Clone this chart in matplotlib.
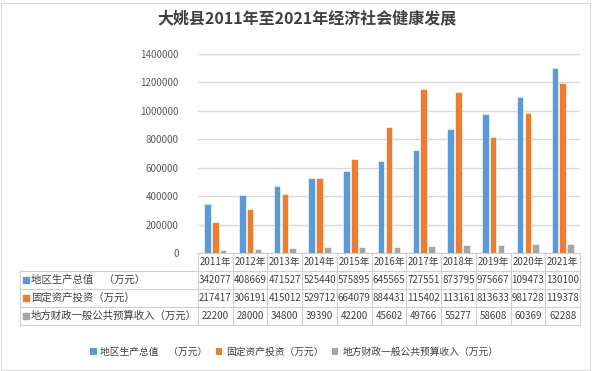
import matplotlib
matplotlib.use("Agg")
import matplotlib.pyplot as plt
import matplotlib.transforms as mtransforms
from matplotlib.patches import Patch, Rectangle
import numpy as np

plt.rcParams['font.family'] = ['Noto Sans CJK SC', 'DejaVu Sans']

title = "大姚县2011年至2021年经济社会健康发展"
years = ["2011年", "2012年", "2013年", "2014年", "2015年", "2016年",
         "2017年", "2018年", "2019年", "2020年", "2021年"]
series_names = ["地区生产总值　（万元）", "固定资产投资（万元）", "地方财政一般公共预算收入（万元）"]
gdp = [342077, 408669, 471527, 525440, 575895, 645565, 727551, 873795, 975667, 1094730, 1301000]
invest = [217417, 306191, 415012, 529712, 664079, 884431, 1154020, 1131610, 813633, 981728, 1193780]
revenue = [22200, 28000, 34800, 39390, 42200, 45602, 49766, 55277, 58608, 60369, 62288]
yticks = [0, 200000, 400000, 600000, 800000, 1000000, 1200000, 1400000]

colors = ["#5B9BD5", "#ED7D31", "#A5A5A5"]
text_c = "#404040"
grid_c = "#D9D9D9"
tab_c = "#D0D0D0"

W, H = 594, 371
fig = plt.figure(figsize=(W / 100, H / 100), dpi=100)
ax_l, ax_r, ax_t, ax_b = 198, 580, 54, 253
ax = fig.add_axes([ax_l / W, 1 - ax_b / H, (ax_r - ax_l) / W, (ax_b - ax_t) / H])

x = np.arange(len(years))
data = [gdp, invest, revenue]
offsets = [-0.225, 0.0, 0.225]
for vals, off, c, name in zip(data, offsets, colors, series_names):
    ax.bar(x + off, vals, width=0.19, color=c, edgecolor="white", linewidth=0.4, label=name, zorder=3)

ax.set_xlim(-0.5, len(years) - 0.5)
ax.set_ylim(0, 1400000)
ax.set_yticks(yticks)
ax.set_yticklabels([str(v) for v in yticks], fontsize=7, color="#595959")
ax.tick_params(axis='y', length=0, pad=14)
ax.tick_params(axis='x', length=0, labelbottom=False)
ax.yaxis.grid(True, color=grid_c, linewidth=1.0, zorder=0)
for s in ["top", "right", "left"]:
    ax.spines[s].set_visible(False)
ax.spines["bottom"].set_color(tab_c)
ax.spines["bottom"].set_linewidth(0.8)

# Data table
axh = ax_b - ax_t
row_h = 18 / axh
blend = mtransforms.blended_transform_factory(ax.transData, ax.transAxes)
left_ax = (20 - ax_l) / (ax_r - ax_l)
nfs = 7
lfs = 7.5

for k in range(1, 5):
    yy = -k * row_h
    ax.plot([left_ax, 1.0], [yy, yy], transform=ax.transAxes, color=tab_c, lw=0.8, clip_on=False)
for k in range(len(years) + 1):
    xx = k - 0.5
    ax.plot([xx, xx], [0, -4 * row_h], transform=blend, color=tab_c, lw=0.8, clip_on=False)
ax.plot([left_ax, left_ax], [-row_h, -4 * row_h], transform=ax.transAxes, color=tab_c, lw=0.8, clip_on=False)

for i, yl in enumerate(years):
    ax.text(i, -0.5 * row_h, yl, transform=blend, ha="center", va="center", fontsize=nfs, color=text_c)
for r, (vals, c, name) in enumerate(zip(data, colors, series_names)):
    yy = -(r + 1.5) * row_h
    ax.plot([(26 - ax_l) / (ax_r - ax_l)], [yy], marker="s", markersize=3.8, color=c,
            transform=ax.transAxes, clip_on=False, linestyle="none")
    ax.text((31 - ax_l) / (ax_r - ax_l), yy, name, transform=ax.transAxes, ha="left", va="center",
            fontsize=lfs, color=text_c)
    for i, v in enumerate(vals):
        ax.text(i, yy, str(v)[:6], transform=blend, ha="center", va="center", fontsize=nfs, color=text_c)

fig.text(307 / W, 1 - 18 / H, title, ha="center", va="center", fontsize=11.5,
         fontweight="bold", color="#404040")

handles = [Patch(facecolor=c, edgecolor="none", label=n) for c, n in zip(colors, series_names)]
fig.legend(handles=handles, loc="center", bbox_to_anchor=(294 / W, 1 - 352 / H), ncol=3,
           frameon=False, fontsize=7, handlelength=0.7, handleheight=0.7, handletextpad=0.4,
           columnspacing=0.8, labelcolor=text_c)

fig.patches.append(Rectangle((0.5 / W, 1.5 / H), 589 / W, 367 / H, transform=fig.transFigure,
                             fill=False, edgecolor=grid_c, linewidth=0.8))

fig.savefig("out.png", dpi=100)
